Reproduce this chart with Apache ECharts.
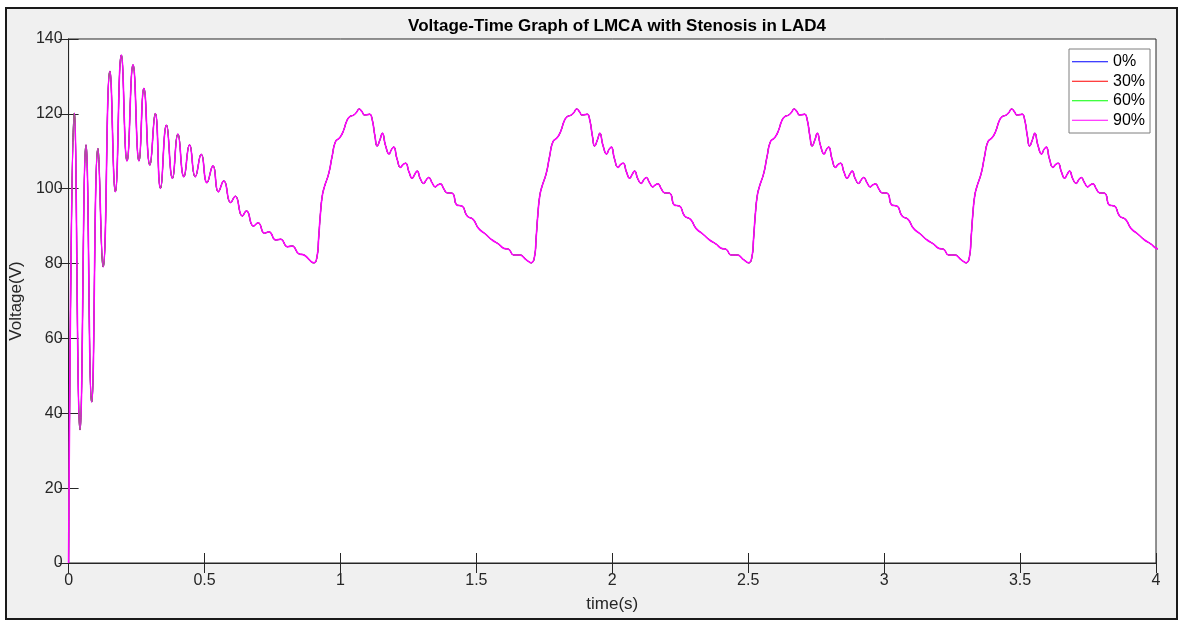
<!DOCTYPE html>
<html>
<head>
<meta charset="utf-8">
<title>Voltage-Time Graph</title>
<script src="https://cdn.jsdelivr.net/npm/echarts@6/dist/echarts.min.js"></script>
<style>
  html, body { margin: 0; padding: 0; background: #fff; }
  #chart { width: 1182px; height: 622px; }
</style>
</head>
<body>
<div id="chart"></div>
<script>
// start-up transient (time in s, voltage in V)
var transientTime = [0, 0.0213, 0.042, 0.064, 0.085, 0.108, 0.127, 0.152, 0.172, 0.194,
  0.215, 0.237, 0.259, 0.277, 0.299, 0.319, 0.338, 0.360, 0.382, 0.402,
  0.424, 0.445, 0.466, 0.488, 0.509, 0.531, 0.551, 0.571, 0.596, 0.613,
  0.639, 0.654, 0.680, 0.697, 0.721, 0.737, 0.762, 0.780, 0.805, 0.822,
  0.847, 0.866];
var transientVoltage = [0, 120.2, 35.6, 111.7, 43, 110.7, 79.1, 131.4, 99.2, 135.7,
  107.4, 133.1, 107.4, 126.8, 106.3, 120.1, 100.1, 117.0, 102.8, 114.6,
  103.2, 111.7, 103.2, 109.2, 101.6, 106.1, 99.2, 102.1, 96.3, 98.0,
  92.7, 94.1, 90.0, 90.9, 88.1, 88.5, 86.3, 86.5, 84.5, 84.7,
  82.6, 82.3];

// one heart cycle (time from cycle start), the same shape repeats every 0.8 s
var cycleTime = [0.002, 0.014, 0.020, 0.026, 0.033, 0.041, 0.057, 0.069, 0.082, 0.097,
  0.110, 0.125, 0.137, 0.147, 0.158, 0.169, 0.180, 0.188, 0.200, 0.208,
  0.217, 0.227, 0.235, 0.245, 0.254, 0.266, 0.279, 0.288, 0.296, 0.308,
  0.321, 0.331, 0.340, 0.352, 0.364, 0.373, 0.382, 0.394, 0.406, 0.416,
  0.425, 0.437, 0.449, 0.458, 0.468, 0.480, 0.492, 0.511, 0.529, 0.547,
  0.566, 0.588, 0.608, 0.633, 0.658, 0.682, 0.700, 0.719, 0.737, 0.759,
  0.784];
var cycleVoltage = [80.2, 81.9, 87.0, 93.0, 98.0, 100.5, 104.1, 108.5, 112.6, 113.6,
  115.3, 118.4, 119.4, 119.6, 120.3, 121.3, 120.5, 119.7, 119.8, 119.9,
  118.4, 114.0, 111.4, 113.0, 114.8, 111.5, 109.3, 110.5, 111.1, 108.0,
  105.7, 106.5, 106.8, 104.5, 102.8, 103.8, 104.7, 102.6, 101.4, 102.4,
  103.0, 101.6, 100.5, 101.0, 101.3, 100.0, 98.9, 98.8, 95.6, 95.4,
  92.7, 91.8, 89.4, 87.9, 86.3, 85.2, 84.1, 83.8, 82.3, 82.3,
  81.0];
var cycleStart = [0.9, 1.7, 2.5, 3.3];

var seriesNames = ['0%', '30%', '60%', '90%'];
var seriesColors = ['#0000ff', '#ff0000', '#00ff00', '#ff00ff'];

var fontName = 'Liberation Sans';
var axisColor = '#262626';

function buildPoints() {
  var pts = [];
  for (var i = 0; i < transientTime.length; i++) {
    pts.push([transientTime[i], transientVoltage[i]]);
  }
  for (var c = 0; c < cycleStart.length; c++) {
    for (var j = 0; j < cycleTime.length; j++) {
      pts.push([+(cycleStart[c] + cycleTime[j]).toFixed(4), cycleVoltage[j]]);
    }
  }
  return pts;
}

var chart = echarts.init(document.getElementById('chart'));

// the curves lie on top of each other, 90% is drawn last and covers the rest
var series = seriesNames.map(function (name, k) {
  var last = k === seriesNames.length - 1;
  return {
    name: name,
    type: 'line',
    data: buildPoints(),
    symbol: 'none',
    smooth: 0.5,
    clip: true,
    lineStyle: { color: seriesColors[k], width: last ? 1.6 : 1 },
    itemStyle: { color: seriesColors[k] }
  };
});

var option = {
  animation: false,
  backgroundColor: '#ffffff',
  textStyle: { fontFamily: fontName },
  graphic: [{
    type: 'rect',
    z: -10,
    silent: true,
    shape: { x: 6, y: 8, width: 1171, height: 611 },
    style: { fill: '#f0f0f0', stroke: '#1a1a1a', lineWidth: 2 }
  }],
  title: {
    text: 'Voltage-Time Graph of LMCA with Stenosis in LAD4',
    left: 612,
    top: 13,
    textAlign: 'center',
    textStyle: { fontFamily: fontName, fontSize: 17, fontWeight: 'bold', color: '#000' }
  },
  legend: {
    data: seriesNames,
    orient: 'vertical',
    left: 1069,
    top: 49,
    padding: [3, 5, 3, 3],
    itemGap: 0,
    icon: 'rect',
    itemWidth: 36,
    itemHeight: 1.2,
    backgroundColor: '#ffffff',
    borderColor: '#7f7f7f',
    borderWidth: 1,
    textStyle: { fontFamily: fontName, fontSize: 16, color: '#000', lineHeight: 19.5 }
  },
  grid: {
    left: 68,
    right: 26,
    top: 39,
    bottom: 59,
    show: true,
    backgroundColor: '#ffffff',
    borderColor: axisColor,
    borderWidth: 1
  },
  xAxis: [{
    type: 'value',
    min: 0,
    max: 4,
    interval: 0.5,
    name: 'time(s)',
    nameLocation: 'middle',
    nameGap: 33,
    nameTextStyle: { fontFamily: fontName, fontSize: 17, color: '#262626' },
    axisLine: { lineStyle: { color: axisColor } },
    axisTick: { inside: true, length: 10, lineStyle: { color: axisColor } },
    axisLabel: { fontFamily: fontName, fontSize: 16, color: '#262626', margin: 10 },
    splitLine: { show: false }
  }, {
    type: 'value',
    position: 'top',
    min: 0,
    max: 4,
    interval: 0.5,
    axisLine: { show: true, lineStyle: { color: axisColor } },
    axisTick: { inside: true, length: 10, lineStyle: { color: axisColor } },
    axisLabel: { show: false },
    splitLine: { show: false }
  }],
  yAxis: [{
    type: 'value',
    min: 0,
    max: 140,
    interval: 20,
    name: 'Voltage(V)',
    nameLocation: 'middle',
    nameGap: 37,
    nameTextStyle: { fontFamily: fontName, fontSize: 17, color: '#262626' },
    axisLine: { show: true, lineStyle: { color: axisColor } },
    axisTick: { show: true, inside: true, length: 10, lineStyle: { color: axisColor } },
    axisLabel: { fontFamily: fontName, fontSize: 16, color: '#262626', margin: 6 },
    splitLine: { show: false }
  }, {
    type: 'value',
    position: 'right',
    min: 0,
    max: 140,
    interval: 20,
    axisLine: { show: true, lineStyle: { color: axisColor } },
    axisTick: { show: true, inside: true, length: 10, lineStyle: { color: axisColor } },
    axisLabel: { show: false },
    splitLine: { show: false }
  }],
  series: series
};

chart.setOption(option);
</script>
</body>
</html>
